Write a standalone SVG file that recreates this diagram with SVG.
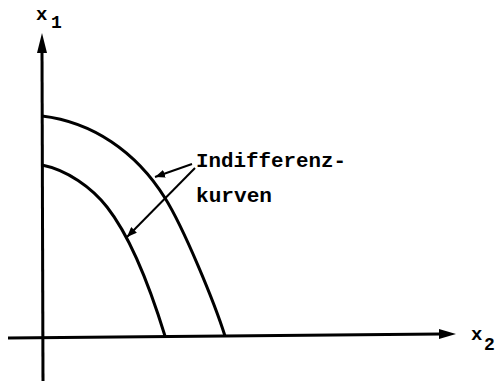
<svg xmlns="http://www.w3.org/2000/svg" width="498" height="381" viewBox="0 0 498 381">
<style>
.ax{stroke:#000;stroke-width:3;fill:none;stroke-linecap:butt}
.cv{stroke:#000;stroke-width:3;fill:none}
.ld{stroke:#000;stroke-width:2;fill:none}
.t{font-family:"Liberation Mono","Courier New",monospace;font-weight:bold;fill:#000}
</style>
<defs>
<marker id="ah" viewBox="0 0 10 8" refX="10" refY="4" markerWidth="10" markerHeight="8" markerUnits="userSpaceOnUse" orient="auto">
<path d="M0,0 L10,4 L0,8 Z" fill="#000"/>
</marker>
</defs>
<g id="axes">
<line class="ax" x1="43" y1="381" x2="42" y2="50"/>
<polygon points="42,33 37,53 47,53" fill="#000"/>
<line class="ax" x1="8" y1="338" x2="441" y2="334"/>
<polygon points="456,334 439,329 439,339" fill="#000"/>
</g>
<g id="curve-outer">
<path class="cv" d="M42,116 C92,122 135.9,151.3 165,198 C183.6,227.8 214.2,301.8 225,336"/>
</g>
<g id="curve-inner">
<path class="cv" d="M42,165 C67,170 91.5,187.3 107,207 C131.8,238.6 150,287.3 165,336"/>
</g>
<g id="connectors">
<line class="ld" x1="192" y1="164" x2="155" y2="177" marker-end="url(#ah)"/>
<line class="ld" x1="195" y1="168" x2="127" y2="237" marker-end="url(#ah)"/>
</g>
<g id="label-x1">
<text class="t" x="36" y="20" font-size="19">x</text>
<text class="t" x="51" y="28" font-size="18">1</text>
</g>
<g id="label-x2">
<text class="t" x="471" y="340" font-size="19">x</text>
<text class="t" x="484" y="350" font-size="18">2</text>
</g>
<g id="label-indiff">
<text class="t" x="196" y="167" font-size="20.5" textLength="150" lengthAdjust="spacingAndGlyphs">Indifferenz-</text>
<text class="t" x="196" y="202" font-size="20.5" textLength="76" lengthAdjust="spacingAndGlyphs">kurven</text>
</g>
</svg>
